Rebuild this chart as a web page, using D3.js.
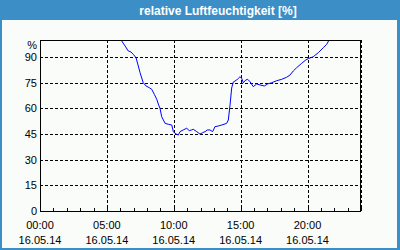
<!DOCTYPE html>
<meta charset="utf-8">
<style>
body { margin: 0; background: #fff; }
text { font-family: "Liberation Sans", Arial, sans-serif; font-size: 11px; fill: #000; }
.title { font-family: "Liberation Sans", Arial, sans-serif; font-weight: bold; font-size: 12px; fill: #fff; }
.grid line { stroke: #000; stroke-dasharray: 3,2; shape-rendering: crispEdges; }
</style>
<body>
<script src="https://cdn.jsdelivr.net/npm/d3@7"></script>
<script>

var width = 400,
    height = 250;

// hours since midnight (16.05.14) and relative humidity in %
var hours = [0, 3, 6.0, 6.06, 6.36, 6.60, 6.80, 6.98, 7.18, 7.35, 7.48, 7.72, 7.93, 8.17, 8.35,
  8.55, 8.73, 8.87, 8.97, 9.10, 9.35, 9.59, 9.85, 9.97, 10.09, 10.34, 10.47, 10.71, 10.97,
  11.16, 11.34, 11.46, 11.72, 11.96, 12.16, 12.34, 12.51, 12.71, 12.91, 13.08, 13.33, 13.59,
  13.83, 13.96, 14.08, 14.21, 14.33, 14.45, 14.71, 14.83, 14.95, 15.08, 15.20, 15.38, 15.53,
  15.70, 15.95, 16.20, 16.45, 16.77, 17.02, 17.32, 17.70, 18.07, 18.44, 18.69, 18.94, 19.19,
  19.57, 19.87, 20.06, 20.43, 20.81, 21.18, 21.44, 21.61, 22.5, 24];
var humidity = [100, 100, 100, 100, 96.5, 93.6, 93.0, 91.6, 89.6, 84.8, 80.9, 75.0, 73.1, 72.1, 71.2,
  68.2, 65.3, 62.0, 60.1, 55.1, 51.3, 50.7, 50.3, 46.4, 45.4, 44.4, 46.4, 47.4, 48.4,
  47.0, 47.4, 47.8, 46.4, 45.0, 45.8, 46.4, 47.4, 47.4, 46.4, 49.3, 49.7, 50.3,
  50.9, 51.3, 53.2, 62.0, 71.9, 75.4, 76.6, 77.6, 78.5, 77.6, 75.0, 76.6, 77.0,
  75.6, 72.7, 74.3, 73.7, 73.1, 74.3, 75.0, 76.2, 77.0, 78.2, 79.5, 81.9, 83.8,
  86.4, 88.3, 89.1, 90.2, 92.6, 95.5, 97.5, 100, 100, 100];
var yTicks = [0, 15, 30, 45, 60, 75, 90];
var titleText = "relative Luftfeuchtigkeit [%]";

var day = new Date(2014, 4, 16);
var data = hours.map(function(h, i) {
  return { t: new Date(day.getTime() + h * 3600000), v: humidity[i] };
});

var plotL = 40, plotR = 361, plotT = 40, plotB = 211;

var x = d3.scaleTime()
    .domain([day, d3.timeDay.offset(day, 1)])
    .range([plotL, plotR]);
var y = d3.scaleLinear()
    .domain([0, 100])
    .range([plotB, plotT]);

var svg = d3.select("body").append("svg")
    .attr("width", width)
    .attr("height", height);

// window frame + title bar
svg.append("rect").attr("width", width).attr("height", height).attr("fill", "#3b8ec6");
svg.append("rect")
    .attr("x", 2).attr("y", 20)
    .attr("width", width - 5).attr("height", height - 22)
    .attr("fill", "#f9fcf9");
svg.append("text")
    .attr("class", "title")
    .attr("x", 218).attr("y", 14.5)
    .attr("text-anchor", "middle")
    .text(titleText);

// grid
var grid = svg.append("g").attr("class", "grid");
grid.selectAll(".h").data(yTicks.filter(function(d) { return d > 0; }))
  .enter().append("line")
    .attr("x1", plotL).attr("x2", plotR)
    .attr("y1", function(d) { return Math.round(y(d)) + 0.5; })
    .attr("y2", function(d) { return Math.round(y(d)) + 0.5; });
var majors = x.ticks(d3.timeHour.every(5)).filter(function(d) { return d > day; });
grid.selectAll(".v").data(majors)
  .enter().append("line")
    .attr("y1", plotT).attr("y2", plotB)
    .attr("x1", function(d) { return Math.round(x(d)) + 0.5; })
    .attr("x2", function(d) { return Math.round(x(d)) + 0.5; });

// hourly minor ticks, pointing inward
svg.append("g").selectAll("line").data(x.ticks(d3.timeHour.every(1)))
  .enter().append("line")
    .attr("x1", function(d) { return Math.round(x(d)) + 0.5; })
    .attr("x2", function(d) { return Math.round(x(d)) + 0.5; })
    .attr("y1", plotB - 3).attr("y2", plotB)
    .attr("stroke", "#000")
    .attr("shape-rendering", "crispEdges");

// line
svg.append("clipPath").attr("id", "clip")
  .append("rect").attr("x", plotL).attr("y", plotT).attr("width", plotR - plotL).attr("height", plotB - plotT);

var line = d3.line()
    .x(function(d) { return x(d.t); })
    .y(function(d) { return y(d.v); });

svg.append("path")
    .datum(data)
    .attr("clip-path", "url(#clip)")
    .attr("fill", "none")
    .attr("stroke", "#0000ff")
    .attr("stroke-width", 1)
    .attr("d", line);

// plot frame
svg.append("rect")
    .attr("x", plotL + 0.5).attr("y", plotT + 0.5)
    .attr("width", plotR - plotL - 1).attr("height", plotB - plotT)
    .attr("fill", "none")
    .attr("stroke", "#000")
    .attr("shape-rendering", "crispEdges");

// y labels
svg.append("g").selectAll("text").data(yTicks)
  .enter().append("text")
    .attr("x", 37)
    .attr("y", function(d) { return y(d) + 4; })
    .attr("text-anchor", "end")
    .text(function(d) { return d; });
svg.append("text")
    .attr("x", 37).attr("y", 49)
    .attr("text-anchor", "end")
    .text("%");

// x labels
var fmtTime = d3.timeFormat("%H:%M"),
    fmtDate = d3.timeFormat("%d.%m.%y");
var xl = svg.append("g").selectAll("g").data(x.ticks(d3.timeHour.every(5)).filter(function(d) { return d < x.domain()[1]; }))
  .enter().append("g")
    .attr("transform", function(d) { return "translate(" + x(d) + ",0)"; });
xl.append("text").attr("y", 228.5).attr("text-anchor", "middle").text(fmtTime);
xl.append("text").attr("y", 243.5).attr("text-anchor", "middle").text(fmtDate);

</script>
</body>
</html>
